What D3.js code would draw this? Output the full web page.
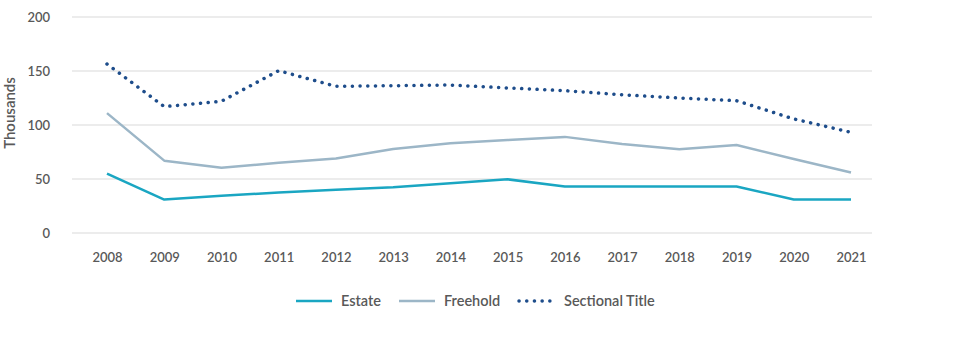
<!DOCTYPE html>
<html><head><meta charset="utf-8">
<script src="https://cdn.jsdelivr.net/npm/d3@7"></script>
<style>
body{margin:0;background:#fff;}
text{font-family:"Source Sans Pro",Lato,"Open Sans",sans-serif;fill:#595959;font-weight:600;}
</style></head>
<body><svg id="c" width="955" height="341"></svg>
<script>
const years = ["2008","2009","2010","2011","2012","2013","2014","2015","2016","2017","2018","2019","2020","2021"];
const estate = [55,31,34.5,37.5,40,42.3,46,49.7,43,43,43,43,31,31];
const freehold = [111,67,60.5,65,69,77.8,83,86,89,82.4,77.5,81.5,68.5,56];
const sectional = [156.5,117,122,150.3,135.8,136.4,137,134.3,131.8,128,125,122.5,105.6,93.2];
const yTicks = [0,50,100,150,200];
const seriesNames = ["Estate","Freehold","Sectional Title"];

const svg = d3.select("#c");
const x = d3.scalePoint().domain(years).range([107,851]);
const y = d3.scaleLinear().domain([0,200]).range([233,17]);

svg.append("g").selectAll("line").data(yTicks).join("line")
  .attr("x1",72).attr("x2",872).attr("y1",d=>y(d)).attr("y2",d=>y(d))
  .attr("stroke","#d9d9d9").attr("stroke-width",1);

const ya = svg.append("g").attr("transform","translate(50,0)")
  .call(d3.axisLeft(y).tickValues(yTicks).tickSize(0).tickPadding(0));
ya.select(".domain").remove();
ya.selectAll("text").style("font-size","13px").attr("fill","#595959").attr("dy","0.35em");

const xa = svg.append("g").attr("transform","translate(0,233)")
  .call(d3.axisBottom(x).tickSize(0).tickPadding(20));
xa.select(".domain").remove();
xa.selectAll("text").style("font-size","13px").attr("fill","#595959");

svg.append("text").attr("transform","translate(10,113) rotate(-90)")
  .attr("text-anchor","middle").attr("dy","0.35em").style("font-size","15px").text("Thousands");

const line = d3.line().x((d,i)=>x(years[i])).y(d=>y(d));
const styles = [
  {data:estate,color:"#1aa6c2",w:2.5,dash:null,cap:"butt"},
  {data:freehold,color:"#9cb6c7",w:2.5,dash:null,cap:"butt"},
  {data:sectional,color:"#1e4d8b",w:3.5,dash:"0.1,7.6",cap:"round"}
];
styles.forEach(s=>{
  svg.append("path").datum(s.data).attr("d",line).attr("fill","none")
    .attr("stroke",s.color).attr("stroke-width",s.w)
    .attr("stroke-dasharray",s.dash).attr("stroke-linecap",s.cap)
    .attr("stroke-linejoin","round");
});

const legX = [295,398,518];
const leg = svg.append("g");
styles.forEach((s,i)=>{
  leg.append("line").attr("x1",legX[i]+1).attr("x2",legX[i]+37).attr("y1",301).attr("y2",301)
    .attr("stroke",s.color).attr("stroke-width",s.w)
    .attr("stroke-dasharray",s.dash).attr("stroke-linecap",s.cap);
  leg.append("text").attr("x",legX[i]+46).attr("y",301).attr("dy","0.35em")
    .style("font-size","14.5px").text(seriesNames[i]);
});
</script></body></html>
